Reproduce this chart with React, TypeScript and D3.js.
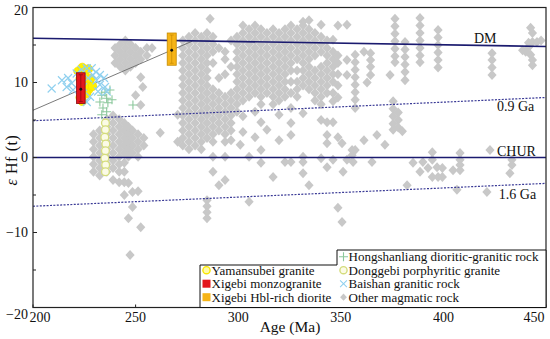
import React from "react";
import * as d3 from "d3";

// ---------- data ----------
const xTicks = [200, 250, 300, 350, 400, 450];
const yTicks = [-20, -10, 0, 10, 20];
const yMinorTicks = [-15, -5, 5, 15];

const refNames = ["DM", "0.9 Ga", "CHUR", "1.6 Ga"];
const refStart = [15.9, 4.9, 0, -6.5]; // εHf at 200 Ma
const refEnd = [14.8, 8.0, 0, -3.45]; // εHf at 450 Ma
const refDashed = [false, true, false, true];

const evoAges = [200, 277.5];
const evoHf = [6.3, 15.5];

const boxNames = ["Xigebi monzogranite", "Xigebi Hbl-rich diorite"];
const boxAge = [223.3, 267.6];
const boxAgeErr = [2.1, 2.2];
const boxHf = [9.1, 14.3];
const boxHfLo = [7.2, 12.3];
const boxHfHi = [11.3, 16.6];

const yamansubei: [number, number][] = [
  [222, 11.5], [223, 10.5], [224, 12.0], [225, 11.0], [226, 10.0], [227, 9.0],
  [225, 9.5], [226, 8.5], [228, 10.5], [223, 8.0], [229, 9.5], [224, 7.5], [227, 11.8],
];

const baishan: [number, number][] = [
  [209.1, 9.2], [214.1, 10.3], [216.4, 9.4], [217.1, 10.6], [218.9, 9.9], [219.5, 9.0],
  [221.3, 11.2], [223.7, 11.7], [226.2, 11.9], [228.6, 11.9], [229.2, 11.0], [226.8, 10.6],
  [231.0, 10.3], [232.6, 9.7], [231.7, 8.8], [227.8, 8.1], [226.2, 7.4], [224.4, 9.4],
  [235.1, 9.4], [235.9, 8.8], [230.7, 11.4], [232.6, 11.0], [234.6, 10.6],
];

const hongshanliang: [number, number][] = [
  [233.5, 8.3], [235.9, 7.9], [232.6, 7.4], [236.5, 7.3], [234.1, 6.6], [235.9, 6.1],
  [233.5, 5.7], [237.5, 9.0], [235.1, 8.7], [238.5, 7.7], [248.7, 7.0],
];

const donggebi: [number, number][] = [
  [235.3, 4.6], [235.3, 3.7], [235.0, 2.7], [235.5, 1.8], [235.3, 0.9],
  [235.0, -0.1], [235.4, -1.0], [235.3, -1.9],
];

// other magmatic rock: [age, list of εHf values]
const otherCols: [number, number[]][] = [
  [240, [14.6, 13.6, 12.6]],
  [242.5, [15.1, 14.1, 13.1, 12.1]],
  [245, [15.6, 14.6, 13.6, 12.6, 11.6]],
  [247.5, [15.1, 14.1, 13.1, 12.1]],
  [250, [14.6, 13.6, 12.6, 8.3]],
  [252.5, [14.1, 13.1, 10.7, 7.0]],
  [253.5, [9.4]],
  [255.5, [14.6, 13.6]],
  [258, [14.6]],
  [229.5, [3.1, 2.1, 1.1, 0.1, -0.9, -1.9]],
  [232.5, [3.6, 2.6, 1.6, 0.6, -0.4, -1.4, -2.4]],
  [236, [5.1, 4.1, 3.1, 2.1, 1.1, 0.1, -0.9, -1.9]],
  [239, [5.6, 4.6, 3.6, 2.6, 1.6, 0.6, -0.4, -1.4, -3.0]],
  [242, [5.1, 4.1, 3.1, 2.1, 1.1, 0.1, -0.9, -1.9, -3.3]],
  [244.5, [4.6, 3.6, 2.6, 1.6, 0.6, -0.7, -1.9, -3.3, -5.0]],
  [246.5, [4.1, 3.1, 2.1, 1.1, 0.1, -3.4, -8.1]],
  [247.3, [-13.0]],
  [248.5, [3.6, 2.6, 1.6, 0.6, -4.6, -6.6]],
  [251.2, [3.1, 2.1, 1.1, 0.1, -4.5]],
  [252.5, [-9.3]],
  [254, [2.6, 1.6]],
  [262, [3.3]],
  [270.5, [5.7, 2.1]],
  [273, [15.6, 14.6, 13.6, 12.6, 11.6, 10.6, 9.6, 8.6, 7.6, 6.6, 5.6, 4.6, 3.6, 2.6, 1.6]],
  [276, [16.1, 15.1, 14.1, 13.1, 12.1, 11.1, 10.1, 9.1, 8.1, 7.1, 6.1, 5.1, 4.1, 3.1, 2.1, 1.1]],
  [279, [16.6, 15.6, 14.6, 13.6, 12.6, 11.6, 10.6, 9.6, 8.6, 7.6, 6.6, 5.6, 4.6, 3.6, 2.6, 1.6]],
  [282, [16.1, 15.1, 14.1, 13.1, 12.1, 11.1, 10.1, 9.1, 8.1, 7.1, 6.1, 5.1, 4.1, 3.1, 2.1, 1.1]],
  [284.8, [16.6, 15.6, 14.6, 13.6, 12.6, 11.6, 10.6, 9.6, 8.6, 7.6, 6.6, 5.6, 4.6, 3.6, 2.6, -5.7, -6.5, -7.3, -8.1]],
  [286.3, [18.5]],
  [287.7, [16.1, 15.1, 14.1, 12.6, 9.1, 8.1, 7.1, 6.1, 5.1, 4.1, 3.1, 2.1, 0.1, -1.9]],
  [290.6, [14.6, 10.6, 8.6, 7.6, 6.6, 5.6, 4.6, 3.6, -3.7]],
  [293.6, [14.1, 13.1, 11.1, 8.1, 7.1, 6.1, 5.1, 4.1, 3.1, 2.1, 0.1, -3.0]],
  [296.5, [15.6, 12.1, 8.6, 7.6, 6.6, 5.6, 4.6, 3.6, 2.3]],
  [299.4, [16.1, 15.1, 14.1, 13.1, 12.1, 11.1, 10.1, 9.1, 8.1, 7.1, 6.1]],
  [301, [1.7]],
  [302.3, [17.6, 16.6, 15.6, 14.6, 13.6, 12.6, 11.6, 10.6, 9.6, 8.6, 7.6, 5.5, 3.4]],
  [305.3, [17.1, 16.1, 15.1, 14.1, 13.1, 12.1, 11.1, 10.1, 9.1, 8.1, 0.1, -5.9]],
  [308.2, [17.6, 16.6, 15.6, 14.6, 13.6, 12.6, 11.6, 10.6, 9.6, 8.6, 6.1, 2.7]],
  [311.1, [17.1, 16.1, 15.1, 14.1, 13.1, 12.1, 11.1, 10.1, 9.1, 8.1, 7.1, 4.7, 1.0, -0.7]],
  [314, [16.6, 15.6, 14.6, 13.6, 12.6, 11.6, 10.6, 9.6, 8.6, 3.7]],
  [317, [17.1, 16.1, 15.1, 14.1, 13.1, 12.1, 11.1, 10.1, 9.1, 8.1, 7.1, -2.6]],
  [319.9, [16.6, 15.6, 14.6, 13.6, 12.6, 11.6, 10.6, 9.6, 8.6, 7.6, 5.7, 2.3]],
  [322.8, [17.1, 16.1, 15.1, 14.1, 13.1, 12.1, 11.1, 10.1, 9.1, 8.1, -0.6]],
  [325.7, [17.6, 16.6, 15.6, 14.6, 13.6, 12.6, 11.6, 10.1, 8.6, 6.6, 4.6, 3.0, -0.6]],
  [328.7, [17.1, 16.1, 15.1, 14.1, 13.1, 11.6, 10.1, 9.1, 8.1]],
  [331.6, [18.1, 17.6, 16.6, 15.6, 14.6, 13.6, 12.6, 11.6, 10.6, 9.6, 5.9, 0.1, -0.6, -2.1]],
  [334.5, [18.3, 17.1, 16.1, 15.1, 14.1, 13.1, 12.1, 11.1, 10.1, 9.1, -3.7]],
  [337.4, [16.6, 15.6, 14.6, 13.6, 11.6, 10.6, 9.6, 8.6, 7.6]],
  [340.4, [17.7, 16.1, 15.1, 14.1, 12.1, 11.1, 10.1, 9.1, 8.1, 7.1, 5.0, -0.1]],
  [343.3, [15.6, 14.6, 13.6, 12.6, 11.6, 10.6, 9.6, 8.6, 4.7, 3.0, 1.9, -1.3]],
  [346.2, [15.7, 14.1, 13.1, 12.1, 11.1, 10.1, 8.6, 7.5, 4.7, -0.3]],
  [348.6, [17.6, 13.6, 12.6, 11.1, 9.6, 8.0, 2.7, -6.7]],
  [350.6, [1.9, -8.6]],
  [351.1, [-1.9]],
  [353, [17.7, 13.0, 11.0, -0.3]],
  [355.5, [0.3, 1.0]],
  [356, [-0.6]],
  [357, [13.7, 12.7, 11.7, 10.7, 9.7, 8.7, 7.7, 6.6, 1.0]],
  [361.3, [14.1, 2.3]],
  [362.8, [10.0]],
  [364.5, [13.9, 13.0, 12.1, 11.0]],
  [365.2, [-0.6]],
  [367.6, [3.0]],
  [371.5, [1.7]],
  [374, [11.0]],
  [375.5, [7.5, 6.5, 5.5, 4.5, 3.7]],
  [376.4, [18.5, 17.5, 16.5, 15.5, 14.5, 13.5, 12.7]],
  [378, [6.0, 5.0, 4.0]],
  [380, [3.5]],
  [381.3, [15.4, 14.4, 13.4, 12.4, 11.4, 10.3]],
  [382.3, [-3.7]],
  [385.2, [-0.7]],
  [388.6, [18.6, 17.6, 16.6, 15.6, 14.6, 13.6, 12.7, -1.9]],
  [390, [-0.6]],
  [392.5, [-1.4]],
  [394.6, [0.7, -0.3, -2.6]],
  [396.9, [-1.3]],
  [397.4, [17.0, 16.0, 15.0, 14.0, 13.0, 12.0, -2.6]],
  [399.5, [-1.4, -2.6]],
  [404.7, [-1.7]],
  [406.6, [-4.3]],
  [408.1, [0.6, -0.3, -1.0, -1.7]],
  [421.2, [-4.6]],
  [422.7, [1.0]],
  [423.7, [13.9, 13.0, 12.0, 11.0]],
  [432.4, [-2.1]],
  [433.4, [-0.3, -1.0]],
  [438.6, [14.3]],
  [440.1, [14.1]],
  [441.5, [15.3, 14.7]],
  [442.5, [17.3, 13.7]],
  [443.4, [16.6, 15.4, 13.0, 12.3]],
  [445.6, [15.4]],
  [447.6, [15.6]],
];

const legendRight = ["Hongshanliang dioritic-granitic rock", "Donggebi porphyritic granite", "Baishan granitic rock", "Other magmatic rock"];
const legendLeft = ["Yamansubei granite", "Xigebi monzogranite", "Xigebi Hbl-rich diorite"];

// ---------- layout ----------
const W = 550, H = 339;
const PL = 33, PR = 546, PT = 7.5, PB = 307.5;
const FONT = "Liberation Serif, Times New Roman, serif";
const TS: React.CSSProperties = { fontFamily: FONT };

const C_GRAY = "#c8c8c8";
const C_NAVY = "#1b1b6f";
const C_BLUE = "#8fd0ef";
const C_GREEN = "#8cc89c";
const C_DONG = "#d4dc7c";
const C_YEL = "#fff000";
const C_RED = "#e3161d";
const C_ORG = "#f6b417";

const x = d3.scaleLinear().domain([200, 450]).range([PL, PR]);
const y = d3.scaleLinear().domain([-20, 20]).range([PB, PT]);

const diamond = "M0,-5L4.6,0L0,5L-4.6,0Z";
const smallDiamond = "M0,-3.6L3.4,0L0,3.6L-3.4,0Z";
const cross = "M-4,-4L4,4M-4,4L4,-4";
const plus = "M-4.5,0H4.5M0,-4.5V4.5";

const otherPts: [number, number][] = otherCols.flatMap(([a, vals]) => vals.map((v) => [a, v] as [number, number]));

export default function App() {
  const line = d3.line<[number, number]>().x((d) => x(d[0])).y((d) => y(d[1]));
  const labelPos: [number, number, number][] = [
    [414.9, 15.1, -1.5],
    [426.1, 7.9, 13],
    [426.1, 0, -1.5],
    [427, -3.6, 14],
  ];
  const legendPoly = `M200,${PB}V265H337V250H${PR}V${PB}Z`;
  const rowY = [261, 274.5, 288, 301.5];
  const LF = 13;
  return (
    <svg width={W} height={H} style={{ position: "absolute", left: 0, top: 0, background: "#fff", fontFamily: FONT }}>
      <rect width={W} height={H} fill="#fff" />
      <g fill={C_GRAY}>
        {otherPts.map((p, i) => (
          <path key={i} d={diamond} transform={`translate(${x(p[0])},${y(p[1])})`} />
        ))}
      </g>
      <path d={line(evoAges.map((a, i) => [a, evoHf[i]]) as [number, number][]) || ""} stroke="#6b6b6b" strokeWidth={0.9} fill="none" />
      {refNames.map((n, i) => (
        <path
          key={n}
          d={line([[200, refStart[i]], [450, refEnd[i]]]) || ""}
          stroke={refDashed[i] ? "#3a3a96" : C_NAVY}
          strokeWidth={refDashed[i] ? 1.2 : 1.6}
          strokeDasharray={refDashed[i] ? "2,1.4" : undefined}
          fill="none"
        />
      ))}
      {refNames.map((n, i) => (
        <text key={n + "t"} x={x(labelPos[i][0])} y={y(labelPos[i][1]) + labelPos[i][2]} fontSize={14} fill="#111" style={TS}>
          {n}
        </text>
      ))}
      {donggebi.map((p, i) => (
        <circle key={"d" + i} cx={x(p[0])} cy={y(p[1])} r={3.9} fill="#fbfbe6" stroke={C_DONG} strokeWidth={1.3} />
      ))}
      {hongshanliang.map((p, i) => (
        <path key={"h" + i} d={plus} transform={`translate(${x(p[0])},${y(p[1])})`} stroke={C_GREEN} strokeWidth={1.1} fill="none" />
      ))}
      {yamansubei.map((p, i) => (
        <circle key={"y" + i} cx={x(p[0])} cy={y(p[1])} r={4.3} fill={C_YEL} stroke="#f5e000" strokeWidth={0.8} />
      ))}
      {baishan.map((p, i) => (
        <path key={"b" + i} d={cross} transform={`translate(${x(p[0])},${y(p[1])})`} stroke={C_BLUE} strokeWidth={1.1} fill="none" />
      ))}
      {boxNames.map((n, i) => {
        const x0 = x(boxAge[i] - boxAgeErr[i]);
        const x1 = x(boxAge[i] + boxAgeErr[i]);
        const cx = x(boxAge[i]);
        const yt = y(boxHfHi[i]);
        const yb = y(boxHfLo[i]);
        const fill = i === 0 ? C_RED : C_ORG;
        const stroke = i === 0 ? "#8a0a0e" : "#c58a00";
        return (
          <g key={n}>
            <rect x={x0} y={yt} width={x1 - x0} height={yb - yt} fill={fill} stroke={stroke} strokeWidth={0.8} />
            <line x1={cx} x2={cx} y1={yt + 2} y2={yb - 2} stroke={stroke} strokeWidth={0.7} />
            <line x1={cx - 2} x2={cx + 2} y1={yt + 2} y2={yt + 2} stroke={stroke} strokeWidth={0.7} />
            <line x1={cx - 2} x2={cx + 2} y1={yb - 2} y2={yb - 2} stroke={stroke} strokeWidth={0.7} />
            <circle cx={cx} cy={y(boxHf[i])} r={1.4} fill="#111" />
          </g>
        );
      })}
      <rect x={PL} y={PT} width={PR - PL} height={PB - PT} fill="none" stroke="#222" strokeWidth={1.2} />
      {yTicks.map((t) => (
        <line key={"yt" + t} x1={PL} x2={PL + 4} y1={y(t)} y2={y(t)} stroke="#222" strokeWidth={1} />
      ))}
      {yMinorTicks.map((t) => (
        <line key={"ym" + t} x1={PL} x2={PL + 3} y1={y(t)} y2={y(t)} stroke="#222" strokeWidth={1} />
      ))}
      {xTicks.map((t) => (
        <line key={"xt" + t} x1={x(t)} x2={x(t)} y1={PB} y2={PB - 3} stroke="#222" strokeWidth={1} />
      ))}
      {yTicks.map((t) => (
        <text key={"yl" + t} x={28} y={y(t) + (t === 20 ? 7 : t === -20 ? 11 : 4.5)} fontSize={14} textAnchor="end" fill="#111" style={TS}>
          {t < 0 ? "\u2212" + Math.abs(t) : String(t)}
        </text>
      ))}
      {xTicks.map((t) => (
        <text key={"xl" + t} x={x(t) + (t === 200 ? 7 : t === 450 ? -12 : 0)} y={322} fontSize={14} textAnchor="middle" fill="#111" style={TS}>
          {t}
        </text>
      ))}
      <text x={290} y={331.5} fontSize={15.5} textAnchor="middle" fill="#111" style={TS}>Age (Ma)</text>
      <text transform="translate(17,160) rotate(-90)" fontSize={16} letterSpacing={0.6} textAnchor="middle" fill="#111" style={TS}>
        <tspan fontStyle="italic">ε</tspan> Hf (t)
      </text>
      <path d={legendPoly} fill="#fff" stroke="#111" strokeWidth={1} />
      {legendRight.map((l, i) => {
        const ry = rowY[i];
        const mx = 343.5, my = ry - 4.3;
        let m: React.ReactNode = null;
        if (i === 0) m = <path d={plus} transform={`translate(${mx},${my})`} stroke={C_GREEN} strokeWidth={1.1} fill="none" />;
        if (i === 1) m = <circle cx={mx} cy={my} r={3.6} fill="#fbfbe6" stroke={C_DONG} strokeWidth={1.4} />;
        if (i === 2) m = <path d={cross} transform={`translate(${mx},${my}) scale(0.85)`} stroke={C_BLUE} strokeWidth={1.2} fill="none" />;
        if (i === 3) m = <path d={smallDiamond} transform={`translate(${mx},${my})`} fill={C_GRAY} />;
        return (
          <g key={l}>
            {m}
            <text x={348.5} y={ry} fontSize={LF} fill="#111" style={TS}>{l}</text>
          </g>
        );
      })}
      {legendLeft.map((l, i) => {
        const ry = rowY[i + 1];
        const mx = 206.5, my = ry - 4.3;
        let m: React.ReactNode = null;
        if (i === 0) m = <circle cx={mx} cy={my} r={3.6} fill="#fff9a8" stroke="#f8e600" strokeWidth={1.4} />;
        if (i === 1) m = <rect x={mx - 4} y={my - 4} width={8} height={8} fill={C_RED} />;
        if (i === 2) m = <rect x={mx - 4} y={my - 4} width={8} height={8} fill={C_ORG} />;
        return (
          <g key={l}>
            {m}
            <text x={211.5} y={ry} fontSize={LF} fill="#111" style={TS}>{l}</text>
          </g>
        );
      })}
    </svg>
  );
}
